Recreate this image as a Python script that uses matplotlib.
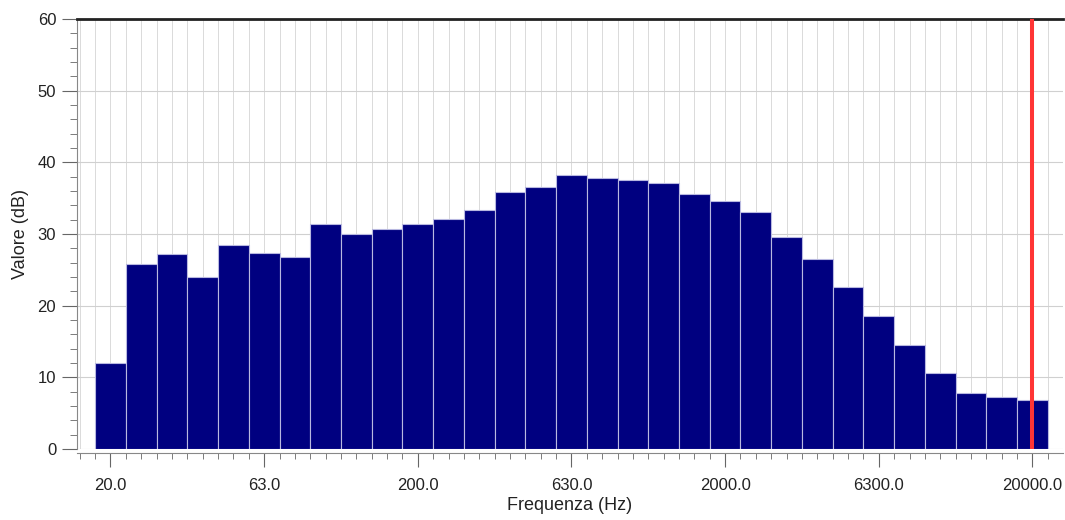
import numpy as np
import matplotlib.pyplot as plt

plt.rcParams['font.family'] = ['Liberation Sans', 'DejaVu Sans']

# bande di terzo d'ottava (Hz)
bands = [20, 25, 31.5, 40, 50, 63, 80, 100, 125, 160, 200, 250, 315, 400, 500,
         630, 800, 1000, 1250, 1600, 2000, 2500, 3150, 4000, 5000, 6300, 8000,
         10000, 12500, 16000, 20000]
levels = [12.0, 25.8, 27.2, 24.0, 28.5, 27.3, 26.8, 31.4, 30.0, 30.7, 31.4,
          32.1, 33.3, 35.9, 36.6, 38.2, 37.8, 37.5, 37.1, 35.6, 34.6, 33.1,
          29.6, 26.5, 22.6, 18.6, 14.5, 10.6, 7.8, 7.3, 6.8]
tick_labels = ['20.0', '63.0', '200.0', '630.0', '2000.0', '6300.0', '20000.0']
marker_freq = 20000

x = np.arange(len(bands))

fig = plt.figure(figsize=(10.65, 5.2), dpi=100)
ax = fig.add_axes([0.0723, 0.1365, 0.9257, 0.827])

# griglia
for xv in np.arange(-1, len(bands) + 1, 0.5):
    ax.axvline(xv, color='#dadada', lw=0.7, zorder=0)
for yv in range(0, 61, 10):
    ax.axhline(yv, color='#d0d0d0', lw=0.8, zorder=0)

ax.bar(x, levels, width=1.0, color='#000080', edgecolor='#b8b8e0',
       linewidth=0.8, zorder=2)

ax.axvline(bands.index(marker_freq), color='#ff3535', lw=2.9, zorder=3)

ax.set_xlim(-1.09, len(bands) - 0.01)
ax.set_ylim(0, 60)

ax.set_xticks(x[::5])
ax.set_xticklabels(tick_labels)
ax.set_xticks(np.arange(-1, len(bands), 0.5), minor=True)
ax.set_yticks(range(0, 61, 10))
ax.set_yticks(range(0, 61, 2), minor=True)
ax.tick_params(axis='y', labelsize=12, labelcolor='#222222', length=11,
               width=0.8, pad=4, color='#666666')
ax.tick_params(axis='y', which='minor', length=5, width=0.6, color='#666666')
ax.tick_params(axis='x', which='major', length=10, width=0.8, color='#666666',
               pad=8, labelsize=12, labelcolor='#222222')
ax.tick_params(axis='x', which='minor', length=4, width=0.6, color='#666666')

ax.set_xlabel('Frequenza (Hz)', fontsize=13, color='#222222', labelpad=3)
ax.set_ylabel('Valore (dB)', fontsize=13, color='#222222', labelpad=6)

ax.spines['top'].set_linewidth(2)
ax.spines['top'].set_color('#222222')
ax.spines['right'].set_visible(False)
ax.spines['left'].set_color('#888888')
ax.spines['left'].set_linewidth(0.8)
ax.spines['bottom'].set_color('#888888')
ax.spines['bottom'].set_linewidth(0.8)
ax.spines['bottom'].set_position(('outward', 3))

plt.savefig('out.png', dpi=100)
